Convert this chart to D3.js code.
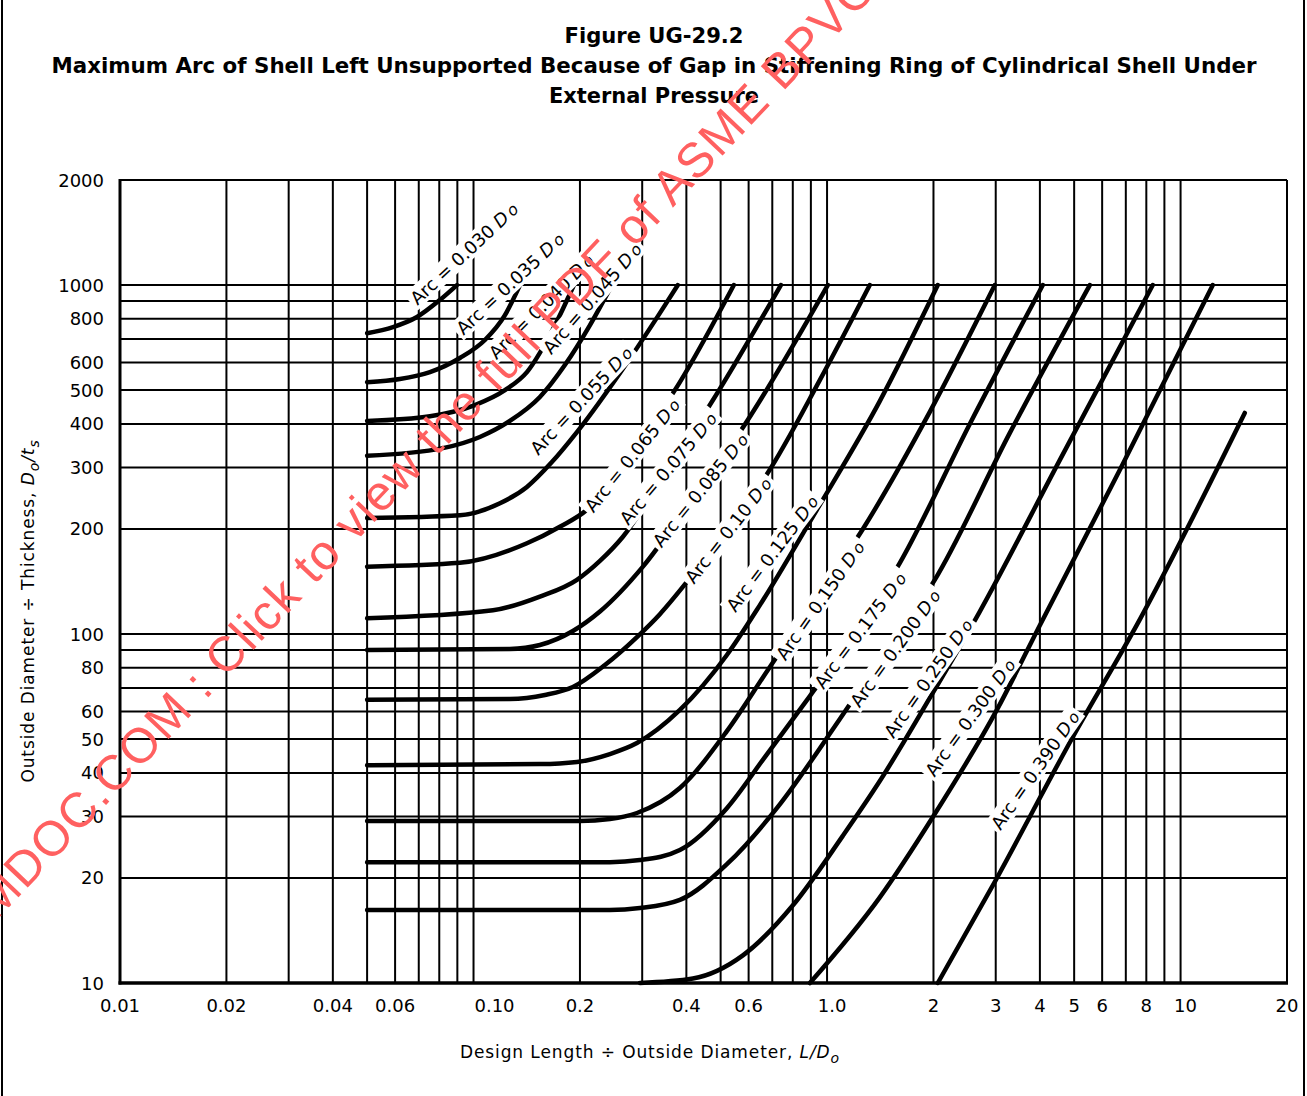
<!DOCTYPE html>
<html>
<head>
<meta charset="utf-8">
<script src="https://cdn.jsdelivr.net/npm/d3@7"></script>
<style>
  body { margin: 0; background: #fff; }
  svg { display: block; }
</style>
</head>
<body>
<div id="chart"></div>
<script>
// ---- values ----
const xGridValues = [0.01, 0.02, 0.03, 0.04, 0.05, 0.06, 0.07, 0.08, 0.09, 0.1,
  0.2, 0.3, 0.4, 0.5, 0.6, 0.7, 0.8, 0.9, 1, 2, 3, 4, 5, 6, 7, 8, 9, 10, 20];
const yGridValues = [10, 20, 30, 40, 50, 60, 70, 80, 90, 100,
  200, 300, 400, 500, 600, 700, 800, 900, 1000, 2000];

const xTickValues = [0.01, 0.02, 0.04, 0.06, 0.1, 0.2, 0.4, 0.6, 1, 2, 3, 4, 5, 6, 8, 10, 20];
const xTickLabels = ["0.01", "0.02", "0.04", "0.06", "0.10", "0.2", "0.4", "0.6", "1.0",
  "2", "3", "4", "5", "6", "8", "10", "20"];
const yTickValues = [10, 20, 30, 40, 50, 60, 80, 100, 200, 300, 400, 500, 600, 800, 1000, 2000];

const arcValues = ["0.030", "0.035", "0.040", "0.045", "0.055", "0.065", "0.075", "0.085",
  "0.10", "0.125", "0.150", "0.175", "0.200", "0.250", "0.300", "0.390"];

// each curve: [L/Do, Do/t] pairs
const curves = [
  [[0.05, 728], [0.0592, 758], [0.0692, 810], [0.0803, 906], [0.0898, 1000]],
  [[0.05, 527], [0.0619, 538], [0.0753, 563], [0.0915, 618], [0.1077, 696], [0.1227, 820], [0.1353, 1000]],
  [[0.05, 408], [0.0753, 421], [0.1009, 453], [0.1227, 500], [0.1416, 563], [0.1645, 719], [0.1923, 1000]],
  [[0.05, 324], [0.0819, 341], [0.1042, 367], [0.1267, 408], [0.1541, 478], [0.1813, 590], [0.2135, 768], [0.2463, 1000]],
  [[0.05, 215], [0.0915, 219], [0.1188, 237], [0.1416, 264], [0.1666, 311], [0.1961, 379], [0.2715, 598], [0.3366, 831], [0.3784, 1000]],
  [[0.05, 156], [0.0915, 160], [0.1416, 182], [0.1755, 203], [0.2093, 227], [0.2463, 273], [0.2955, 355], [0.3835, 527], [0.545, 1000]],
  [[0.05, 111], [0.1135, 117], [0.1541, 128], [0.1961, 143], [0.2278, 162], [0.2646, 190], [0.3477, 289], [0.4661, 453], [0.7402, 1000]],
  [[0.05, 90], [0.1267, 90.6], [0.1541, 93], [0.191, 102], [0.2278, 116], [0.3014, 156], [0.4227, 250], [0.5668, 379], [1.005, 1000]],
  [[0.05, 64.8], [0.1267, 65.1], [0.1592, 66.9], [0.191, 70.5], [0.2353, 81.5], [0.2899, 98], [0.3366, 114], [0.4013, 141], [0.5208, 200], [0.6758, 287], [0.954, 534], [1.321, 1000]],
  [[0.05, 42.1], [0.1541, 42.4], [0.1961, 43.0], [0.2431, 45.3], [0.2899, 48.7], [0.3835, 60.6], [0.5208, 87.1], [0.6457, 121], [0.9357, 227], [1.41, 465], [2.057, 1000]],
  [[0.05, 29.1], [0.2, 29.1], [0.2431, 29.5], [0.2899, 30.7], [0.3835, 36.2], [0.5208, 52.7], [0.6801, 78.9], [0.924, 125], [1.263, 200], [1.953, 433], [2.982, 1000]],
  [[0.05, 22.2], [0.2431, 22.2], [0.2955, 22.5], [0.3835, 24.05], [0.5208, 31.7], [0.6669, 44.4], [0.894, 66.4], [1.222, 103], [1.607, 160], [2.534, 400], [4.077, 1000]],
  [[0.05, 16.2], [0.2431, 16.2], [0.2955, 16.4], [0.3835, 17.3], [0.5208, 21.9], [0.7211, 31.7], [1.087, 57.1], [1.486, 91.2], [2.017, 143], [3.289, 377], [5.536, 1000]],
  [[0.2955, 10], [0.4173, 10.3], [0.578, 12.0], [0.8006, 16.7], [1.108, 26.4], [1.41, 37.9], [1.953, 65.6], [2.704, 116], [4.553, 315], [8.344, 1000]],
  [[0.894, 10], [1.41, 17.6], [1.992, 29.9], [3.022, 60.6], [4.0, 106], [6.73, 295], [12.33, 1000]],
  [[2.057, 10], [2.982, 19.5], [4.957, 50.7], [7.665, 110], [15.19, 430]]
];

// where each "Arc = ..." label sits, in chart units, and its slant
const labelAnchors = [[0.0939, 1235], [0.1267, 1013], [0.155, 871], [0.2161, 918], [0.2012, 468],
  [0.2805, 326], [0.3546, 299], [0.4369, 259], [0.5243, 198.6], [0.6981, 170.7], [0.954, 125],
  [1.238, 102.7], [1.555, 91.2], [1.928, 74.8], [2.534, 57.8], [3.87, 40.8]];
const labelAngles = [-43, -43, -45, -49, -47, -51, -50, -51, -52, -53, -55, -53, -54, -55, -54, -55];

// ---- chart settings ----
const width = 1307;
const height = 1096;
const margin = { left: 120, right: 20, top: 180, bottom: 113 };

const x = d3.scaleLog().domain([0.01, 20]).range([margin.left, width - margin.right]);
const y = d3.scaleLog().domain([10, 2000]).range([height - margin.bottom, margin.top]);

const svg = d3.select("#chart").append("svg")
  .attr("width", width)
  .attr("height", height)
  .style("background", "#fff");

// page frame (left and right rules)
svg.append("line").attr("x1", 2).attr("x2", 2).attr("y1", 0).attr("y2", height)
  .attr("stroke", "#000").attr("stroke-width", 2);
svg.append("line").attr("x1", width - 3).attr("x2", width - 3).attr("y1", 0).attr("y2", height)
  .attr("stroke", "#000").attr("stroke-width", 2);

// ---- title ----
const titleFont = "'DejaVu Sans Condensed', 'DejaVu Sans', sans-serif";
const titleLines = [
  { text: "Figure UG-29.2", y: 43, len: 179 },
  { text: "Maximum Arc of Shell Left Unsupported Because of Gap in Stiffening Ring of Cylindrical Shell Under", y: 73, len: 1205 },
  { text: "External Pressure", y: 103, len: 210 }
];
svg.append("g").selectAll("text")
  .data(titleLines)
  .join("text")
  .attr("x", 654)
  .attr("y", d => d.y)
  .attr("text-anchor", "middle")
  .attr("font-family", titleFont)
  .attr("font-stretch", "condensed")
  .attr("font-weight", "bold")
  .attr("font-size", 21)
  .attr("textLength", d => d.len)
  .attr("lengthAdjust", "spacingAndGlyphs")
  .text(d => d.text);

// ---- grid ----
const grid = svg.append("g").attr("stroke", "#000").attr("stroke-width", 2);
grid.selectAll(".v").data(xGridValues).join("line")
  .attr("x1", d => x(d)).attr("x2", d => x(d))
  .attr("y1", y(2000)).attr("y2", y(10));
grid.selectAll(".h").data(yGridValues).join("line")
  .attr("x1", x(0.01)).attr("x2", x(20))
  .attr("y1", d => y(d)).attr("y2", d => y(d));

// heavier left and bottom borders
svg.append("line").attr("x1", x(0.01)).attr("x2", x(0.01)).attr("y1", y(2000) - 1).attr("y2", y(10) + 1.5)
  .attr("stroke", "#000").attr("stroke-width", 3);
svg.append("line").attr("x1", x(0.01) - 1.5).attr("x2", x(20) + 1).attr("y1", y(10)).attr("y2", y(10))
  .attr("stroke", "#000").attr("stroke-width", 3.5);

// ---- tick labels ----
const tickFont = "'DejaVu Sans', sans-serif";
svg.append("g").selectAll("text")
  .data(xTickValues)
  .join("text")
  .attr("x", d => x(d))
  .attr("dx", d => d === 0.1 ? 21 : (d === 1 || d === 10 ? 5 : 0))
  .attr("y", 1012)
  .attr("text-anchor", "middle")
  .attr("font-family", tickFont)
  .attr("font-size", 18)
  .text((d, i) => xTickLabels[i]);

svg.append("g").selectAll("text")
  .data(yTickValues)
  .join("text")
  .attr("x", 104)
  .attr("y", d => y(d))
  .attr("text-anchor", "end")
  .attr("dominant-baseline", "central")
  .attr("font-family", tickFont)
  .attr("font-size", 18)
  .text(d => d);

// ---- axis titles ----
const xTitle = svg.append("text")
  .attr("x", 650).attr("y", 1058)
  .attr("text-anchor", "middle")
  .attr("font-family", tickFont)
  .attr("font-size", 17)
  .attr("letter-spacing", 0.9);
xTitle.append("tspan").text("Design Length ÷ Outside Diameter, ");
xTitle.append("tspan").attr("font-style", "italic").text("L/D");
xTitle.append("tspan").attr("font-style", "italic").attr("font-size", 14).attr("dy", 5).text("o");

const yTitle = svg.append("text")
  .attr("transform", "translate(34,611) rotate(-90)")
  .attr("text-anchor", "middle")
  .attr("font-family", tickFont)
  .attr("font-size", 17)
  .attr("letter-spacing", 0.9);
yTitle.append("tspan").text("Outside Diameter ÷ Thickness, ");
yTitle.append("tspan").attr("font-style", "italic").text("D");
yTitle.append("tspan").attr("font-style", "italic").attr("font-size", 14).attr("dy", 5).text("o");
yTitle.append("tspan").attr("font-style", "italic").attr("dy", -5).text("/t");
yTitle.append("tspan").attr("font-style", "italic").attr("font-size", 14).attr("dy", 5).text("s");

// ---- curves ----
const line = d3.line()
  .x(d => x(d[0]))
  .y(d => y(d[1]))
  .curve(d3.curveMonotoneX);

svg.append("g").selectAll("path")
  .data(curves)
  .join("path")
  .attr("d", line)
  .attr("fill", "none")
  .attr("stroke", "#000")
  .attr("stroke-width", 4.5)
  .attr("stroke-linecap", "round");

// ---- curve labels on white patches ----
const labels = svg.append("g").selectAll("g")
  .data(arcValues)
  .join("g")
  .attr("transform", (d, i) =>
    `translate(${x(labelAnchors[i][0])},${y(labelAnchors[i][1])}) rotate(${labelAngles[i]})`);

labels.append("rect").attr("fill", "#fff");

const labelText = labels.append("text")
  .attr("text-anchor", "middle")
  .attr("dominant-baseline", "central")
  .attr("font-family", tickFont)
  .attr("font-size", 18);
labelText.append("tspan").text(d => `Arc = ${d} `);
labelText.append("tspan").attr("font-style", "italic").text("D");
labelText.append("tspan").attr("font-style", "italic").attr("font-size", 16).attr("dx", 3).attr("dy", 1).text("o");

labelText.each(function () {
  const b = this.getBBox();
  d3.select(this.parentNode).select("rect")
    .attr("x", b.x - 3).attr("y", b.y)
    .attr("width", b.width + 6).attr("height", b.height);
});

// ---- red watermark across the page ----
svg.append("text")
  .attr("transform", "translate(-4,921) rotate(-46.5)")
  .attr("font-family", "'Liberation Sans', Arial, sans-serif")
  .attr("font-size", 49)
  .attr("letter-spacing", 1.4)
  .attr("fill", "#ff6060")
  .text("MDOC.COM : Click to view the full PDF of ASME BPVC.VIII.1");
</script>
</body>
</html>
